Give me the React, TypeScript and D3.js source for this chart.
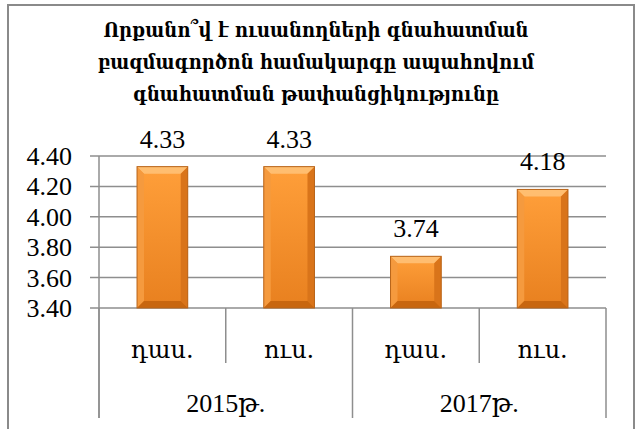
import React from "react";
import * as d3 from "d3";

const titleLines = [
  "Որքանո՞վ է ուսանողների գնահատման",
  "բազմագործոն համակարգը ապահովում",
  "գնահատման թափանցիկությունը",
];
const groups = ["2015թ.", "2017թ."];
const categories = ["դաս.", "ուս.", "դաս.", "ուս."];
const values = [4.33, 4.33, 3.74, 4.18];
const yTicks = [3.4, 3.6, 3.8, 4.0, 4.2, 4.4];

const W = 635;
const H = 429;
const FONT = "Liberation Serif, Times New Roman, Tinos, DejaVu Serif, serif";
const ARM = "DejaVu Serif, Liberation Serif, serif";
const ARM_T = "DejaVu Serif Condensed, DejaVu Serif, serif";

export default function App() {
  const left = 99;
  const right = 606;
  const top = 156;
  const bottom = 308;
  const y = d3.scaleLinear().domain([3.4, 4.4]).range([bottom, top]);
  const x = d3
    .scaleBand<number>()
    .domain(categories.map((_, i) => i))
    .range([left, right])
    .paddingInner(0.6)
    .paddingOuter(0.3);
  const step = x.step();
  const bw = x.bandwidth();
  const grid = "#8e8e8e";
  const bev = 7;

  return (
    <svg width={W} height={H} style={{ position: "absolute", left: 0, top: 0 }}>
      <defs>
        <linearGradient id="barFill" x1="0" y1="0" x2="0" y2="1">
          <stop offset="0" stopColor="#FF9F3A" />
          <stop offset="1" stopColor="#E8801F" />
        </linearGradient>
      </defs>
      <rect x={0} y={0} width={W} height={H} fill="#fff" />
      <rect x={8} y={5} width={626} height={H + 10} fill="#fff" stroke="#8a8a8a" strokeWidth={2} />
      {titleLines.map((t, i) => (
        <text
          key={i}
          x={316}
          y={37 + i * 32}
          textAnchor="middle"
          fontFamily={ARM_T}
          fontWeight="bold"
          fontSize={20}
          fill="#000"
        >
          {t}
        </text>
      ))}
      {yTicks.map((t) => (
        <g key={t}>
          <line x1={90} x2={right} y1={y(t)} y2={y(t)} stroke={grid} strokeWidth={1.5} />
          <text
            x={72}
            y={y(t) + 9}
            textAnchor="end"
            fontFamily={FONT}
            fontSize={26}
            fill="#000"
          >
            {t.toFixed(2)}
          </text>
        </g>
      ))}
      <line x1={left} x2={left} y1={top} y2={418} stroke={grid} strokeWidth={1.5} />
      {categories.map((c, i) => {
        const cx = left + step * i;
        const isGroupEdge = i % 2 === 0;
        return (
          <line
            key={"d" + i}
            x1={cx}
            x2={cx}
            y1={bottom}
            y2={isGroupEdge ? 418 : 363}
            stroke={grid}
            strokeWidth={1.5}
          />
        );
      })}
      <line x1={right} x2={right} y1={bottom} y2={418} stroke={grid} strokeWidth={1.5} />
      {values.map((v, i) => {
        const bx = x(i)!;
        const by = y(v);
        const bh = bottom - by;
        const x2 = bx + bw;
        const y2 = bottom;
        return (
          <g key={"b" + i}>
            <rect x={bx} y={by} width={bw} height={bh} fill="url(#barFill)" />
            <polygon
              points={`${bx},${by} ${x2},${by} ${x2 - bev},${by + bev} ${bx + bev},${by + bev}`}
              fill="#FFC37A"
              opacity={0.85}
            />
            <polygon
              points={`${bx},${by} ${bx + bev},${by + bev} ${bx + bev},${y2 - bev} ${bx},${y2}`}
              fill="#F59A3E"
            />
            <polygon
              points={`${x2},${by} ${x2 - bev},${by + bev} ${x2 - bev},${y2 - bev} ${x2},${y2}`}
              fill="#D9741A"
            />
            <polygon
              points={`${bx},${y2} ${bx + bev},${y2 - bev} ${x2 - bev},${y2 - bev} ${x2},${y2}`}
              fill="#C8660F"
            />
            <rect x={bx} y={by} width={bw} height={bh} fill="none" stroke="#B8641A" strokeWidth={1} />
            <text
              x={bx + bw / 2}
              y={by - 19}
              textAnchor="middle"
              fontFamily={FONT}
              fontSize={26}
              fill="#000"
            >
              {v.toFixed(2)}
            </text>
          </g>
        );
      })}
      {categories.map((c, i) => (
        <text
          key={"c" + i}
          x={left + step * (i + 0.5)}
          y={358}
          textAnchor="middle"
          fontFamily={ARM}
          fontSize={24}
          fill="#000"
        >
          {c}
        </text>
      ))}
      {groups.map((g, i) => (
        <text
          key={"g" + i}
          x={left + step * (i * 2 + 1)}
          y={412}
          textAnchor="middle"
          fontFamily={FONT}
          fontSize={26}
          fill="#000"
        >
          {g}
        </text>
      ))}
    </svg>
  );
}
